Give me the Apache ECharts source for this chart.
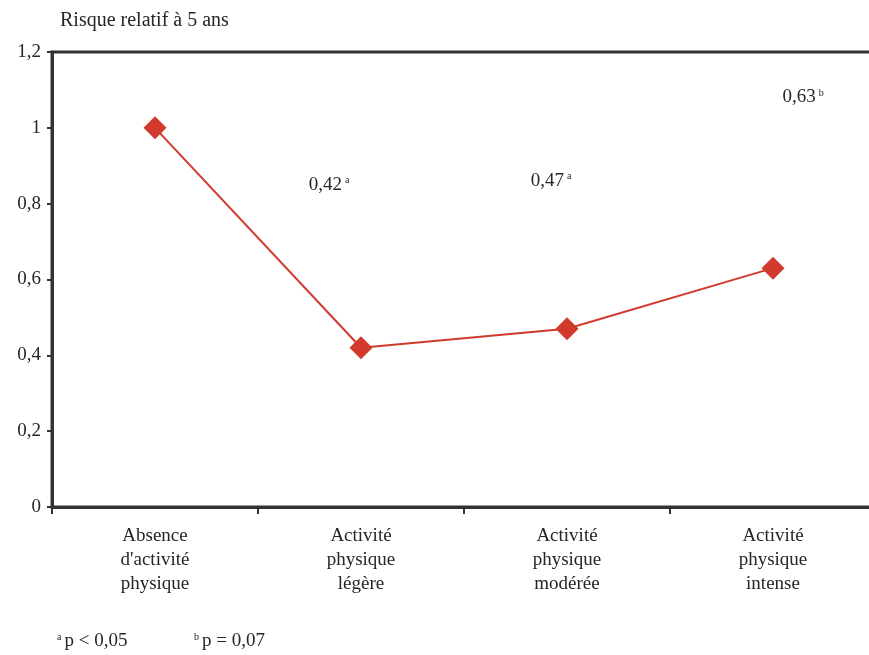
<!DOCTYPE html>
<html><head><meta charset="utf-8">
<script src="https://cdn.jsdelivr.net/npm/echarts@6/dist/echarts.min.js"></script>
<style>html,body{margin:0;padding:0;background:#fff}#c{width:869px;height:655px}</style>
</head><body><div id="c"></div>
<script>
const categories = ["Absence\nd'activité\nphysique", "Activité\nphysique\nlégère", "Activité\nphysique\nmodérée", "Activité\nphysique\nintense"];
const riskValues = [1, 0.42, 0.47, 0.63];
const annotTexts = ["", "0,42", "0,47", "0,63"];
const annotMarks = ["", "a", "a", "b"];
const annotY = [null, 0.85, 0.86, 1.08];
const yTicks = [0, 0.2, 0.4, 0.6, 0.8, 1, 1.2];
const footnotes = [["a", "p < 0,05"], ["b", "p = 0,07"]];

const font = "'Liberation Serif', 'DejaVu Serif', serif";
const textColor = '#262626';
const chart = echarts.init(document.getElementById('c'), null, {renderer: 'canvas'});
const annotOffsets = [[0,0],[-32,0],[-16,0],[30,0]];
const markData = [];
for (let i = 0; i < categories.length; i++) {
  if (annotY[i] == null) continue;
  markData.push({
    coord: [i, annotY[i]],
    label: {show: true, offset: annotOffsets[i],
      formatter: '{v|' + annotTexts[i] + '} {s|' + annotMarks[i] + '}'}
  });
}
chart.setOption({
  animation: false,
  backgroundColor: '#fff',
  title: {text: 'Risque relatif à 5 ans', left: 55, top: 6,
    textStyle: {fontFamily: font, fontSize: 20, fontWeight: 'normal', color: textColor}},
  grid: {left: 52, top: 52, width: 824, height: 455, show: true, outerBoundsMode: 'none', containLabel: false,
    borderColor: '#333', borderWidth: 3, backgroundColor: 'transparent'},
  xAxis: {type: 'category', data: categories, boundaryGap: true,
    axisLine: {lineStyle: {color: '#333', width: 3}},
    axisTick: {show: true, length: 7, lineStyle: {color: '#333', width: 2}},
    axisLabel: {fontFamily: font, fontSize: 19, color: textColor, lineHeight: 24, margin: 17}},
  yAxis: {type: 'value', min: 0, max: 1.2, interval: 0.2,
    axisLine: {show: true, lineStyle: {color: '#333', width: 3}},
    axisTick: {show: true, length: 5, lineStyle: {color: '#333', width: 2}},
    splitLine: {show: false},
    axisLabel: {fontFamily: font, fontSize: 19, color: textColor, margin: 11,
      formatter: v => {
        const t = yTicks.find(x => Math.abs(x - v) < 1e-6);
        return String(Math.round((t != null ? t : v) * 10) / 10).replace('.', ',');
      }}},
  series: [{
    type: 'line', data: riskValues,
    symbol: 'diamond', symbolSize: 23,
    lineStyle: {color: '#d13a2c', width: 2},
    itemStyle: {color: '#d13a2c'},
    markPoint: {symbol: 'circle', symbolSize: 0,
      label: {fontFamily: font, color: textColor,
        rich: {v: {fontFamily: font, fontSize: 19, color: textColor},
               s: {fontFamily: font, fontSize: 10, color: textColor, verticalAlign: 'top', padding: [0,0,9,0]}}},
      data: markData}
  }],
  graphic: footnotes.map((f, i) => ({
    type: 'text', left: 57 + i * 137, top: 632,
    style: {text: '{s|' + f[0] + '}{v|' + f[1] + '}',
      rich: {v: {fontFamily: font, fontSize: 19, fill: textColor},
             s: {fontFamily: font, fontSize: 10, fill: textColor, padding: [0,3,9,0]}}}
  }))
});
</script></body></html>
